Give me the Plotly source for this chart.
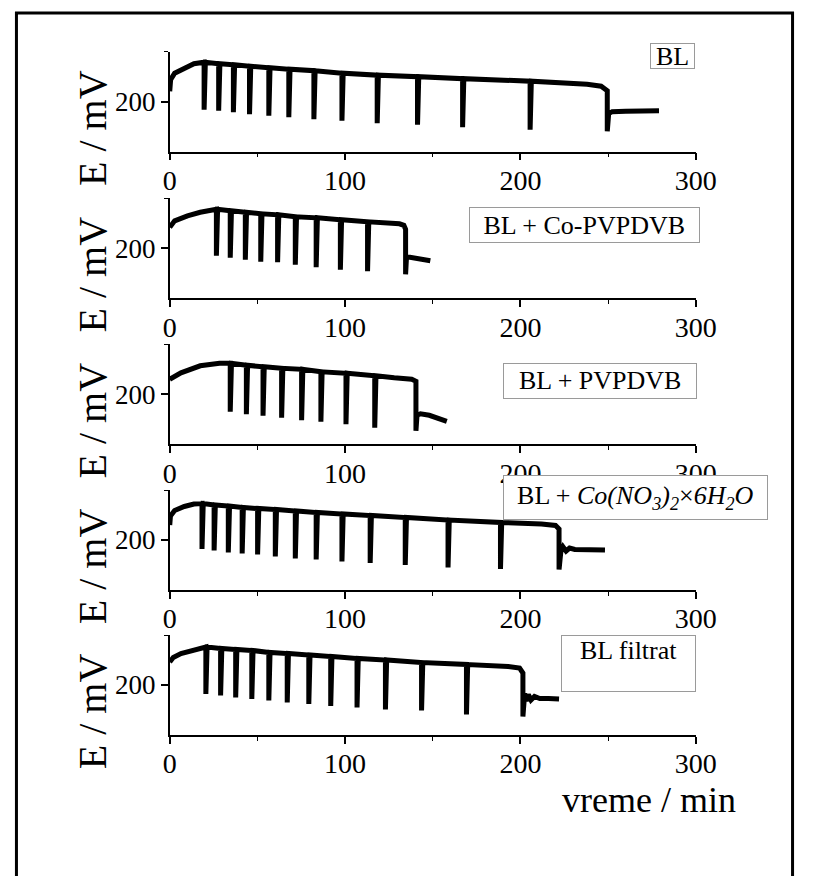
import plotly.graph_objects as go
from plotly.subplots import make_subplots

# ---- data (t in min, E in mV) ----
labels = ["BL", "BL + Co-PVPDVB", "BL + PVPDVB",
          "BL + <i>Co(NO</i><sub><i>3</i></sub><i>)</i><sub><i>2</i></sub>×<i>6H</i><sub><i>2</i></sub><i>O</i>",
          "BL filtrat"]

# BL
bl_rise_t = [0, 0.5, 2.8, 8.3, 13.8]
bl_rise_E = [221, 244, 257, 267, 276]
bl_spike_t = [19.6, 27.9, 36.3, 45.5, 56.5, 67.9, 82.2, 98.2, 118.3, 141.3, 167.0, 205.5, 249.5]
bl_top_E = [279, 276, 274, 271, 268, 265, 262, 257, 253, 250, 246, 241, 222]
bl_dip_E = [184, 182, 179, 175, 172, 169, 165, 162, 157, 154, 149, 144, 141]
bl_knee_t = [238, 246]
bl_knee_E = [235, 231]
bl_tail_t = [250.3, 252.3, 260, 279]
bl_tail_E = [176, 180, 181, 182]

# BL + Co-PVPDVB
co_rise_t = [0, 2.8, 10.1, 17.4]
co_rise_E = [242, 255, 265, 272]
co_spike_t = [26.6, 34.5, 43.1, 51.9, 61.5, 71.6, 83.5, 97.3, 112.8, 134.5]
co_top_E = [278, 275, 272, 269, 267, 263, 261, 257, 253, 238]
co_dip_E = [185, 181, 177, 173, 172, 167, 162, 157, 154, 148]
co_knee_t = [131, 133.5]
co_knee_E = [249, 246]
co_tail_t = [135, 137, 143, 148.6]
co_tail_E = [182, 182, 179, 175]

# BL + PVPDVB
pv_rise_t = [0, 6.4, 17.4, 28.4]
pv_rise_E = [230, 243, 257, 262]
pv_spike_t = [34.5, 43.7, 53.2, 63.8, 75.2, 86.2, 100.5, 116.9, 140.4]
pv_top_E = [262, 258, 255, 252, 250, 245, 242, 237, 226]
pv_dip_E = [165, 160, 157, 153, 148, 145, 140, 133, 127]
pv_knee_t = [128, 138]
pv_knee_E = [233, 230]
pv_tail_t = [141, 143, 148, 158]
pv_tail_E = [158, 161, 158, 146]

# BL + Co(NO3)2 x 6H2O
cn_rise_t = [0, 0.4, 2.8, 8.3, 13.8]
cn_rise_E = [230, 248, 259, 267, 272]
cn_spike_t = [18.4, 25.3, 33.4, 41.3, 50.1, 60.2, 71.6, 83.5, 98.2, 114.3, 134.3, 158.7, 188.6, 222.0]
cn_top_E = [273, 270, 268, 265, 263, 261, 258, 255, 252, 249, 245, 240, 235, 222]
cn_dip_E = [182, 179, 175, 173, 171, 167, 163, 161, 157, 154, 150, 145, 142, 141]
cn_knee_t = [212, 220]
cn_knee_E = [232, 229]
cn_tail_t = [223, 224.3, 226, 228, 231, 240, 248.2]
cn_tail_E = [176, 186, 178, 184, 181, 181, 180]

# BL filtrat
fi_rise_t = [0, 2, 6.4, 13.8]
fi_rise_E = [246, 255, 263, 270]
fi_spike_t = [20.6, 29.0, 37.6, 46.8, 56.5, 67.0, 79.3, 91.8, 106.8, 123.0, 143.6, 169.2, 201.4]
fi_top_E = [276, 273, 271, 269, 265, 263, 260, 257, 253, 250, 245, 241, 224]
fi_dip_E = [182, 179, 175, 172, 169, 165, 162, 158, 155, 151, 149, 141, 137]
fi_knee_t = [193, 199.5]
fi_knee_E = [237, 234]
fi_tail_t = [202.4, 203.3, 204.5, 206, 208, 211, 216, 222]
fi_tail_E = [183, 168, 181, 170, 177, 173, 173, 172]


def build(rise_t, rise_E, spike_t, top_E, dip_E, knee_t, knee_E, tail_t, tail_E):
    # drop at each spike time, then back up to the level before it
    xs, ys = list(rise_t), list(rise_E)
    n = len(spike_t)
    for i in range(n):
        if i == n - 1:
            xs += knee_t
            ys += knee_E
        xs += [spike_t[i], spike_t[i]]
        ys += [top_E[i], dip_E[i]]
        if i < n - 1:
            xs.append(spike_t[i] + 0.7)
            ys.append(top_E[i])
    xs += tail_t
    ys += tail_E
    return xs, ys


curves = [
    build(bl_rise_t, bl_rise_E, bl_spike_t, bl_top_E, bl_dip_E, bl_knee_t, bl_knee_E, bl_tail_t, bl_tail_E),
    build(co_rise_t, co_rise_E, co_spike_t, co_top_E, co_dip_E, co_knee_t, co_knee_E, co_tail_t, co_tail_E),
    build(pv_rise_t, pv_rise_E, pv_spike_t, pv_top_E, pv_dip_E, pv_knee_t, pv_knee_E, pv_tail_t, pv_tail_E),
    build(cn_rise_t, cn_rise_E, cn_spike_t, cn_top_E, cn_dip_E, cn_knee_t, cn_knee_E, cn_tail_t, cn_tail_E),
    build(fi_rise_t, fi_rise_E, fi_spike_t, fi_top_E, fi_dip_E, fi_knee_t, fi_knee_E, fi_tail_t, fi_tail_E),
]

# ---- layout: positions given in page pixels, page body has an 8px margin ----
PAGE_M = 8
W, H = 823 - 2 * PAGE_M, 884 - 2 * PAGE_M
FONT = "Liberation Serif, Times New Roman, serif"


def fx(px):
    return (px - PAGE_M) / W


def fy(py):
    return 1 - (py - PAGE_M) / H


x_left, x_right = 168.3, 713.3
panel_top = [51.7, 198.3, 344.3, 490.0, 635.0]
panel_h = 100.0
# label boxes: (x0, y0, x1, y1)
boxes = [(666.7, 43.3, 711.7, 69.3),
         (482.7, 206.7, 713.3, 242.7),
         (517.3, 363.3, 711.7, 399.0),
         (518.3, 475.0, 783.0, 520.0),
         (575.7, 635.0, 711.0, 692.3)]

fig = make_subplots(rows=5, cols=1)

for i, (xs, ys) in enumerate(curves):
    fig.add_trace(go.Scatter(x=xs, y=ys, mode="lines",
                             line=dict(color="black", width=5),
                             showlegend=False, hoverinfo="skip"),
                  row=i + 1, col=1)

for i in range(5):
    n = "" if i == 0 else str(i + 1)
    top = panel_top[i]
    bot = top + panel_h
    fig.layout["xaxis" + n].update(
        domain=[fx(x_left), fx(x_right)], range=[0, 300],
        showline=True, linecolor="black", linewidth=1.5,
        ticks="outside", ticklen=7, tickwidth=1.5, tickcolor="black",
        tickvals=[0, 100, 200, 300], ticklabelstandoff=-4,
        minor=dict(tickvals=[50, 150, 250], ticks="outside", ticklen=4,
                   tickwidth=1.2, tickcolor="black"),
        showgrid=False, zeroline=False,
        tickfont=dict(family=FONT, size=28, color="black"))
    fig.layout["yaxis" + n].update(
        domain=[fy(bot), fy(top)], range=[100, 300],
        showline=True, linecolor="black", linewidth=1.5,
        ticks="outside", ticklen=7, tickwidth=1.5, tickcolor="black",
        tickvals=[200],
        minor=dict(tickvals=[300], ticks="outside", ticklen=4,
                   tickwidth=1.2, tickcolor="black"),
        showgrid=False, zeroline=False,
        tickfont=dict(family=FONT, size=27, color="black"))

    # y title
    fig.add_annotation(text="E / mV", textangle=-90, xref="paper", yref="paper",
                       x=fx(88), y=fy(top + panel_h / 2 + 26),
                       xanchor="center", yanchor="middle",
                       showarrow=False, font=dict(family=FONT, size=40, color="black"))

    # label box
    bx0, by0, bx1, by1 = boxes[i]
    fig.add_annotation(text=labels[i], xref="paper", yref="paper",
                       x=fx((bx0 + bx1) / 2), y=fy((by0 + by1) / 2),
                       xanchor="center", yanchor="middle",
                       width=bx1 - bx0 - 2, height=by1 - by0 - 2,
                       valign="top" if i == 4 else "middle",
                       showarrow=False, bgcolor="white",
                       bordercolor="#9a9a9a", borderwidth=1, borderpad=0,
                       font=dict(family=FONT, size=26, color="black"))

fig.add_annotation(text="vreme / min", xref="paper", yref="paper",
                   x=fx(665), y=fy(800), xanchor="center", yanchor="middle",
                   showarrow=False, font=dict(family=FONT, size=36, color="black"))

# outer frame
fig.add_shape(type="rect", xref="paper", yref="paper",
              x0=fx(9.5), x1=fx(813.5), y0=-0.05, y1=fy(13),
              line=dict(color="black", width=3), fillcolor="rgba(0,0,0,0)")

fig.update_layout(width=W, height=H, margin=dict(l=0, r=0, t=0, b=0),
                  paper_bgcolor="white", plot_bgcolor="white",
                  showlegend=False)

fig.write_html("out.html")
